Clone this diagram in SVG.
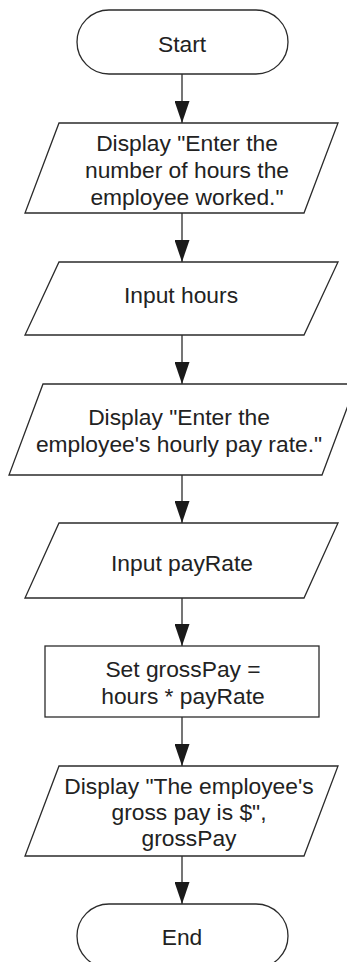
<svg xmlns="http://www.w3.org/2000/svg" width="347" height="962" viewBox="0 0 347 962">
<defs>
<style>
.s{fill:#fff;stroke:#2b2b2b;stroke-width:1.3}
.t{font-family:"Liberation Sans",Arial,sans-serif;font-size:22.8px;fill:#222;text-anchor:middle}
.c{stroke:#2b2b2b;stroke-width:1.3;fill:none}
</style>
<marker id="ah" viewBox="0 0 22 15" refX="22" refY="7.5" markerWidth="22" markerHeight="15" orient="auto" markerUnits="userSpaceOnUse">
<path d="M0,0 L22,7.5 L0,15 z" fill="#1a1a1a"/>
</marker>
</defs>
<rect width="347" height="962" fill="#fff"/>
<g id="connectors">
<line class="c" x1="182" y1="74" x2="182" y2="123" marker-end="url(#ah)"/>
<line class="c" x1="182" y1="213" x2="182" y2="262" marker-end="url(#ah)"/>
<line class="c" x1="182" y1="335" x2="182" y2="384" marker-end="url(#ah)"/>
<line class="c" x1="182" y1="475" x2="182" y2="523" marker-end="url(#ah)"/>
<line class="c" x1="182" y1="598" x2="182" y2="646" marker-end="url(#ah)"/>
<line class="c" x1="182" y1="717" x2="182" y2="766" marker-end="url(#ah)"/>
<line class="c" x1="182" y1="856" x2="182" y2="904" marker-end="url(#ah)"/>
</g>
<g id="start">
<rect class="s" x="77" y="10" width="211" height="64" rx="32" ry="32"/>
<text class="t" x="182" y="52">Start</text>
</g>
<g id="display1">
<polygon class="s" points="59,123 338,123 304,213 25,213"/>
<text class="t" x="187" y="151">Display "Enter the</text>
<text class="t" x="187" y="178">number of hours the</text>
<text class="t" x="187" y="205">employee worked."</text>
</g>
<g id="input1">
<polygon class="s" points="59,262 338,262 304,335 25,335"/>
<text class="t" x="181" y="303">Input hours</text>
</g>
<g id="display2">
<polygon class="s" points="43,384 356,384 322,475 9,475"/>
<text class="t" x="179" y="425">Display "Enter the</text>
<text class="t" x="179" y="452">employee's hourly pay rate."</text>
</g>
<g id="input2">
<polygon class="s" points="59,523 338,523 304,598 25,598"/>
<text class="t" x="182" y="571">Input payRate</text>
</g>
<g id="process">
<rect class="s" x="45" y="646" width="274" height="71"/>
<text class="t" x="183" y="677">Set grossPay =</text>
<text class="t" x="183" y="704">hours * payRate</text>
</g>
<g id="display3">
<polygon class="s" points="59,766 338,766 304,856 25,856"/>
<text class="t" x="189" y="794">Display "The employee's</text>
<text class="t" x="189" y="820">gross pay is $",</text>
<text class="t" x="189" y="846">grossPay</text>
</g>
<g id="end">
<rect class="s" x="77" y="904" width="211" height="64" rx="32" ry="32"/>
<text class="t" x="182" y="945">End</text>
</g>
</svg>
